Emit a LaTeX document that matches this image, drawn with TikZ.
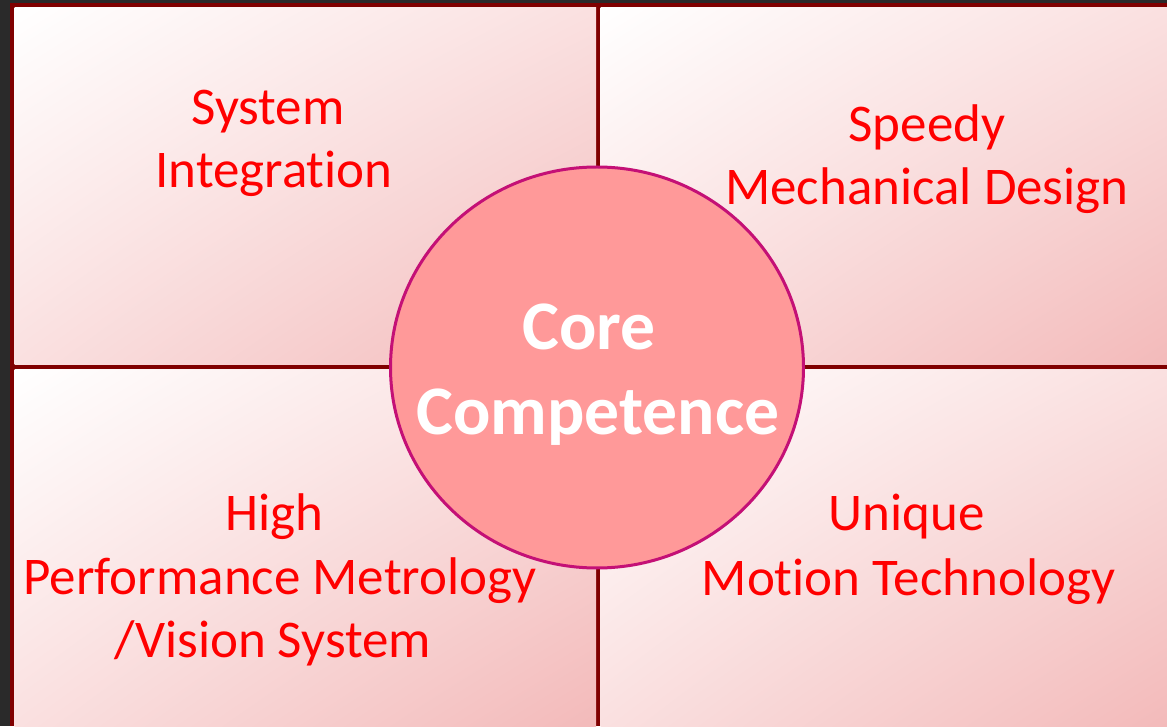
\documentclass[tikz,border=0pt]{standalone}
\usepackage{fontspec}
\setmainfont{Carlito}[Ligatures=NoCommon]
\usetikzlibrary{shapes.geometric,shadings}
\definecolor{bggray}{RGB}{42,42,42}
\definecolor{framered}{RGB}{128,0,0}
\definecolor{qpink}{RGB}{243,186,186}
\definecolor{qmid}{RGB}{250,224,224}
\definecolor{corefill}{RGB}{255,153,153}
\definecolor{coreline}{RGB}{196,16,118}
\definecolor{txtred}{RGB}{255,0,0}
\tikzset{
  quad/.style={upper left=white, lower right=qpink, upper right=qmid, lower left=qmid},
  lbl/.style={anchor=base, inner sep=0pt, text=txtred, font=\fontsize{53}{62}\selectfont},
  corelbl/.style={anchor=base, inner sep=0pt, text=white, font=\fontsize{69.6}{84}\selectfont\bfseries},
  coreshape/.style={ellipse, draw=coreline, fill=corefill, line width=3pt, inner sep=0pt, minimum width=413pt, minimum height=401pt}
}
\begin{document}
\begin{tikzpicture}[x=1pt,y=1pt]
\useasboundingbox (0,0) rectangle (1167,726);
\fill[bggray] (0,0) rectangle (1167,726);
\fill[framered] (10,0) rectangle (1167,722.7);
% quadrants
\shade[quad] (14.5,361) rectangle (596,718);
\shade[quad] (600.5,361) rectangle (1167,718);
\shade[quad] (14.5,0) rectangle (596,356);
\shade[quad] (600.5,0) rectangle (1167,356);
% central circle
\node[coreshape] (core) at (597,358.5) {};
\node[corelbl] (core1) at (589,376) {Core};
\node[corelbl] (core2) at (598,291) {Competence};
% labels
\node[lbl] (si1) at (268,601.5) {System};
\node[lbl] (si2) at (274,538.5) {Integration};
\node[lbl] (sm1) at (927,584.3) {Speedy};
\node[lbl] (sm2) at (927,521.7) {Mechanical Design};
\node[lbl] (hp1) at (274,195) {High};
\node[lbl] (hp2) at (280,132) {Performance Metrology};
\node[lbl] (hp3) at (273,69) {/Vision System};
\node[lbl] (um1) at (907,195) {Unique};
\node[lbl] (um2) at (908.5,131) {Motion Technology};
\end{tikzpicture}
\end{document}
